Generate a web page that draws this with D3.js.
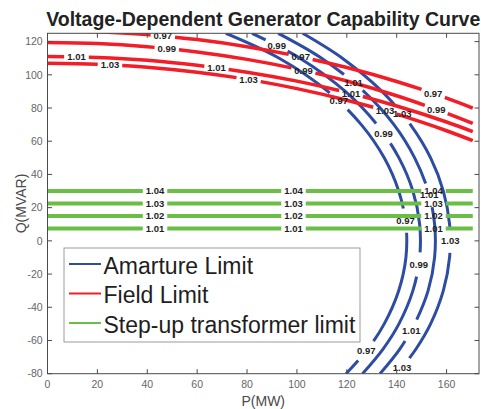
<!DOCTYPE html>
<html>
<head>
<meta charset="utf-8">
<script src="https://cdn.jsdelivr.net/npm/d3@7"></script>
<style>
  body { margin: 0; background: #fff; }
  svg { display: block; font-family: "Liberation Sans", Arial, Helvetica, sans-serif; }
</style>
</head>
<body>
<svg id="chart" width="481" height="409"></svg>
<script>
// Voltage-dependent generator capability curve: contour-style lines
// with inline level labels (MATLAB clabel look).

// ---------------------------------------------------------------------------
// Data
// ---------------------------------------------------------------------------

const xTicks = [0, 20, 40, 60, 80, 100, 120, 140, 160];
const yTicks = [-80, -60, -40, -20, 0, 20, 40, 60, 80, 100, 120];

// Armature limit: P (MW) at each Q (MVAR) sample, one array per voltage level
const armLevels = ['0.97', '0.99', '1.01', '1.03'];
const armQ    = [125, 110, 90, 70, 50, 30, 10, -10, -30, -50, -65, -80];
const armP097 = [71.5, 92.9, 112.4, 125.8, 135.0, 140.8, 143.7, 143.7, 140.8, 135.0, 128.5, 119.7];
const armP099 = [82.0, 101.2, 119.4, 132.1, 140.9, 146.5, 149.2, 149.2, 146.5, 140.9, 134.6, 126.3];
const armP101 = [92.5, 109.9, 126.8, 138.9, 147.2, 152.6, 155.2, 155.2, 152.6, 147.2, 141.3, 133.3];
const armP103 = [102.3, 118.2, 134.1, 145.5, 153.6, 158.7, 161.2, 161.2, 158.7, 153.6, 147.8, 140.3];
const armLabels = [
  [[116.6, 83.9], [142.9, 12.2], [127.7, -66.1]],
  [[91.9, 117.4], [134.6, 64.8], [148.7, -14.1]],
  [[122.6, 95.3], [153.4, 27.7], [146.0, -54.1]],
  [[142.7, 76.9], [162.1, 0.1], [142.9, -77.2]]
];

// Field limit: Q (MVAR) at each P (MW) sample
const fieldLevels = ['0.97', '0.99', '1.01', '1.03'];
const fieldP    = [0, 20, 40, 60, 80, 100, 120, 140, 160, 170.5];
const fieldQ097 = [126.6, 126.0, 124.2, 121.2, 116.9, 111.3, 104.4, 96.0, 86.0, 80.0];
const fieldQ099 = [119.4, 118.8, 116.9, 113.8, 109.3, 103.5, 96.3, 87.4, 76.9, 70.7];
const fieldQ101 = [111.0, 110.4, 108.7, 105.7, 101.6, 96.2, 89.4, 81.2, 71.6, 65.8];
const fieldQ103 = [107.0, 106.4, 104.6, 101.6, 97.3, 91.7, 84.7, 76.3, 66.3, 60.3];
const fieldLabels = [
  [[46.3, 123.4], [101.6, 111.0], [154.6, 88.5]],
  [[47.8, 114.6], [102.6, 102.3], [156.0, 79.5]],
  [[11.7, 111.0], [67.8, 104.9], [121.6, 88.9]],
  [[25.0, 105.0], [80.5, 95.9], [135.3, 77.8]]
];

// Step-up transformer limit: flat lines
const trafoLevels = ['1.04', '1.03', '1.02', '1.01'];
const trafoQ = [30, 22.5, 15, 7.5];
const trafoP = [0, 170.5];
const trafoLabelP = [43.1, 98.6, 154.7];

const legendNames = ['Amarture Limit', 'Field Limit', 'Step-up transformer limit'];

// ---------------------------------------------------------------------------
// Layout
// ---------------------------------------------------------------------------

const PLOT = { left: 47.5, right: 479, top: 33.3, bottom: 373.7 };
const TICK = 4.5;

const COL_ARM   = '#2d4ca2';
const COL_FIELD = '#f21d27';
const COL_TRAFO = '#6abd45';
const COL_AXIS  = '#4a4a4a';
const COL_TICKLBL = '#666';

const svg = d3.select('#chart');

const x = d3.scaleLinear().domain([0, 173]).range([PLOT.left, PLOT.right]);
const y = d3.scaleLinear().domain([-80, 125]).range([PLOT.bottom, PLOT.top]);

svg.append('defs').append('clipPath').attr('id', 'plot-clip')
  .append('rect')
  .attr('x', PLOT.left).attr('y', PLOT.top)
  .attr('width', PLOT.right - PLOT.left).attr('height', PLOT.bottom - PLOT.top);

const lineGen = d3.line()
  .x(d => x(d[0]))
  .y(d => y(d[1]))
  .curve(d3.curveCatmullRom);

const linesG  = svg.append('g').attr('clip-path', 'url(#plot-clip)');
const labelsG = svg.append('g');

// ---------------------------------------------------------------------------
// Contour line with inline labels: the line is broken under each label
// ---------------------------------------------------------------------------

function drawContour(pts, color, width, labelPts, text) {
  const path = linesG.append('path')
    .attr('d', lineGen(pts))
    .attr('fill', 'none')
    .attr('stroke', color)
    .attr('stroke-width', width);

  const node = path.node();
  const L = node.getTotalLength();
  const samples = d3.range(0, L, 0.5).concat([L]).map(s => {
    const p = node.getPointAtLength(s);
    return [s, p.x, p.y];
  });

  const gaps = [];
  labelPts.forEach(([lp, lq]) => {
    const tx = x(lp), ty = y(lq);
    const best = d3.least(samples, d => (d[1] - tx) ** 2 + (d[2] - ty) ** 2);
    const t = labelsG.append('text')
      .attr('x', best[1]).attr('y', best[2])
      .attr('dy', '0.35em')
      .attr('text-anchor', 'middle')
      .attr('font-size', 9.5)
      .attr('font-weight', 'bold')
      .attr('fill', '#1e1e1e')
      .text(text);
    const w = t.node().getComputedTextLength();
    gaps.push([best[0] - w / 2 - 3, best[0] + w / 2 + 3]);
  });

  gaps.sort((a, b) => a[0] - b[0]);
  const dash = [];
  let pos = 0;
  gaps.forEach(([a, b]) => {
    a = Math.max(a, pos);
    b = Math.min(b, L);
    if (b <= a) return;
    dash.push(a - pos, b - a);
    pos = b;
  });
  dash.push(Math.max(L - pos, 0), 0);
  path.attr('stroke-dasharray', dash.join(' '));
}

// ---------------------------------------------------------------------------
// Curves
// ---------------------------------------------------------------------------

const armP = [armP097, armP099, armP101, armP103];
armLevels.forEach((lvl, i) => {
  const pts = armQ.map((q, k) => [armP[i][k], q]);
  drawContour(pts, COL_ARM, 3, armLabels[i], lvl);
});

const fieldQ = [fieldQ097, fieldQ099, fieldQ101, fieldQ103];
fieldLevels.forEach((lvl, i) => {
  const pts = fieldP.map((p, k) => [p, fieldQ[i][k]]);
  drawContour(pts, COL_FIELD, 3.5, fieldLabels[i], lvl);
});

trafoLevels.forEach((lvl, i) => {
  const pts = trafoP.map(p => [p, trafoQ[i]]);
  drawContour(pts, COL_TRAFO, 4, trafoLabelP.map(p => [p, trafoQ[i]]), lvl);
});

// ---------------------------------------------------------------------------
// Axes box, inside ticks, tick labels
// ---------------------------------------------------------------------------

const axisG = svg.append('g');
axisG.append('rect')
  .attr('x', PLOT.left).attr('y', PLOT.top)
  .attr('width', PLOT.right - PLOT.left).attr('height', PLOT.bottom - PLOT.top)
  .attr('fill', 'none').attr('stroke', COL_AXIS).attr('stroke-width', 1);

xTicks.forEach(v => {
  const px = x(v);
  axisG.append('line').attr('x1', px).attr('x2', px)
    .attr('y1', PLOT.bottom).attr('y2', PLOT.bottom - TICK).attr('stroke', COL_AXIS);
  axisG.append('line').attr('x1', px).attr('x2', px)
    .attr('y1', PLOT.top).attr('y2', PLOT.top + TICK).attr('stroke', COL_AXIS);
  axisG.append('text')
    .attr('x', px).attr('y', 388.3)
    .attr('text-anchor', 'middle')
    .attr('font-size', 10.5).attr('fill', COL_TICKLBL)
    .text(v);
});

yTicks.forEach(v => {
  const py = y(v);
  axisG.append('line').attr('y1', py).attr('y2', py)
    .attr('x1', PLOT.left).attr('x2', PLOT.left + TICK).attr('stroke', COL_AXIS);
  axisG.append('line').attr('y1', py).attr('y2', py)
    .attr('x1', PLOT.right).attr('x2', PLOT.right - TICK).attr('stroke', COL_AXIS);
  axisG.append('text')
    .attr('x', PLOT.left - 4.8).attr('y', py + 3.7)
    .attr('text-anchor', 'end')
    .attr('font-size', 10.5).attr('fill', COL_TICKLBL)
    .text(v);
});

// Axis titles
svg.append('text')
  .attr('x', (PLOT.left + PLOT.right) / 2).attr('y', 406)
  .attr('text-anchor', 'middle')
  .attr('font-size', 14).attr('fill', '#4a4a4a')
  .text('P(MW)');

svg.append('text')
  .attr('transform', `translate(25.5,${(PLOT.top + PLOT.bottom) / 2}) rotate(-90)`)
  .attr('text-anchor', 'middle')
  .attr('font-size', 14).attr('fill', '#4a4a4a')
  .text('Q(MVAR)');

// Title
svg.append('text')
  .attr('x', (PLOT.left + PLOT.right) / 2).attr('y', 26)
  .attr('text-anchor', 'middle')
  .attr('font-size', 19.5).attr('font-weight', 'bold').attr('fill', '#222')
  .text('Voltage-Dependent Generator Capability Curve');

// ---------------------------------------------------------------------------
// Legend
// ---------------------------------------------------------------------------

const legend = svg.append('g');
legend.append('rect')
  .attr('x', 64).attr('y', 248).attr('width', 296).attr('height', 94)
  .attr('fill', '#fff').attr('stroke', '#9a9a9a').attr('stroke-width', 1);

[COL_ARM, COL_FIELD, COL_TRAFO].forEach((c, i) => {
  const ry = 264 + i * 29.5;
  legend.append('line')
    .attr('x1', 69).attr('x2', 101).attr('y1', ry).attr('y2', ry)
    .attr('stroke', c).attr('stroke-width', 2);
  legend.append('text')
    .attr('x', 103.5).attr('y', ry + 9.5)
    .attr('font-size', 23).attr('fill', '#1e1e1e')
    .text(legendNames[i]);
});
</script>
</body>
</html>
